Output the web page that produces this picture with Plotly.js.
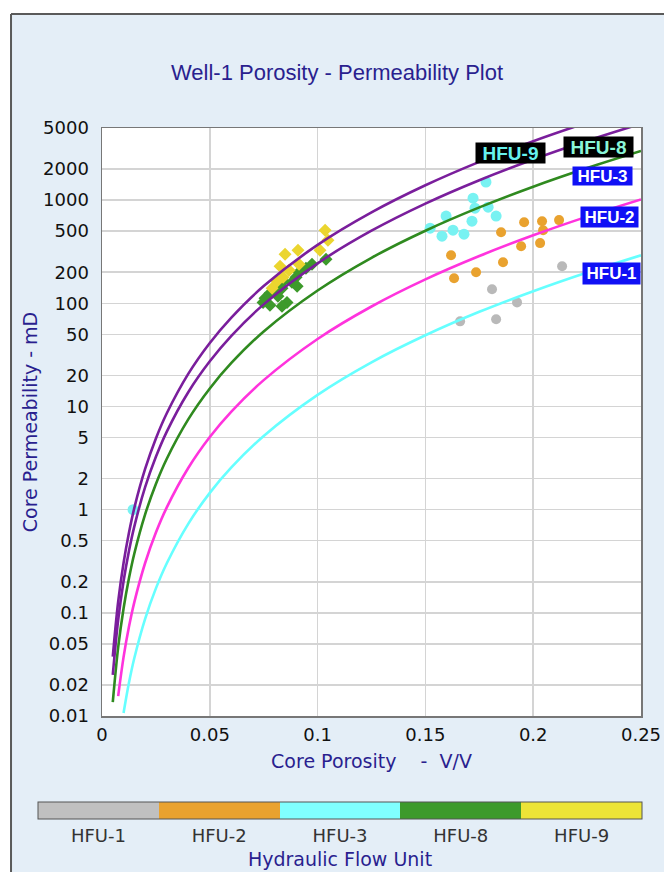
<!DOCTYPE html>
<html>
<head>
<meta charset="utf-8">
<script src="https://cdn.plot.ly/plotly-3.0.1.min.js"></script>
<style>html,body{margin:0;padding:0;background:#fff;}#chart{width:664px;height:872px;}</style>
</head>
<body>
<div id="chart"></div>
<script>
// ---------- Data ----------
// HFU reference curves: porosity (V/V) and permeability (mD)
const hfu9CurvePhi = [0.005, 0.0075, 0.01, 0.0125, 0.015, 0.02, 0.025, 0.03, 0.04, 0.05, 0.06, 0.075, 0.1, 0.125, 0.15, 0.175, 0.2, 0.225];
const hfu9CurveK   = [0.0376, 0.128, 0.304, 0.597, 1.04, 2.48, 4.90, 8.55, 20.7, 41.3, 72.8, 147, 368, 760, 1392, 2346, 3725, 5650];
const hfu8CurvePhi = [0.005, 0.0075, 0.01, 0.0125, 0.015, 0.02, 0.025, 0.03, 0.04, 0.05, 0.06, 0.075, 0.1, 0.125, 0.15, 0.175, 0.2, 0.225, 0.25];
const hfu8CurveK   = [0.025, 0.0848, 0.202, 0.397, 0.689, 1.65, 3.25, 5.68, 13.75, 27.4, 48.4, 97.6, 244, 505, 925, 1559, 2475, 3755, 5500];
const hfu3CurvePhi = [0.005, 0.0075, 0.01, 0.0125, 0.015, 0.02, 0.025, 0.03, 0.04, 0.05, 0.06, 0.075, 0.1, 0.125, 0.15, 0.175, 0.2, 0.225, 0.25];
const hfu3CurveK   = [0.0136, 0.0463, 0.110, 0.216, 0.376, 0.900, 1.775, 3.10, 7.50, 14.96, 26.4, 53.3, 133, 276, 505, 850, 1350, 2048, 3000];
const hfu2CurvePhi = [0.0075, 0.01, 0.0125, 0.015, 0.02, 0.025, 0.03, 0.04, 0.05, 0.06, 0.075, 0.1, 0.125, 0.15, 0.175, 0.2, 0.225, 0.25];
const hfu2CurveK   = [0.0156, 0.0372, 0.0731, 0.127, 0.304, 0.600, 1.047, 2.535, 5.06, 8.92, 18.0, 45.1, 93.1, 170.5, 287, 456, 692, 1014];
const hfu1CurvePhi = [0.01, 0.0125, 0.015, 0.02, 0.025, 0.03, 0.04, 0.05, 0.06, 0.075, 0.1, 0.125, 0.15, 0.175, 0.2, 0.225, 0.25];
const hfu1CurveK   = [0.0107, 0.0210, 0.0365, 0.0875, 0.1726, 0.301, 0.729, 1.454, 2.567, 5.18, 12.96, 26.8, 49.0, 82.7, 131, 199, 292];

// Core samples per hydraulic flow unit
const hfu9Phi = [0.1035, 0.1048, 0.1011, 0.0909, 0.0849, 0.0914, 0.0826, 0.0868, 0.0840, 0.0812, 0.0789];
const hfu9K   = [511, 409, 327, 327, 299, 239, 229, 209, 179, 164, 140];
const hfu8Phi = [0.1039, 0.0974, 0.0946, 0.0914, 0.0900, 0.0881, 0.0905, 0.0840, 0.0835, 0.0803, 0.0779, 0.0816, 0.0756, 0.0747, 0.0779, 0.0858, 0.0835];
const hfu8K   = [267, 239, 219, 200, 179, 160, 146, 164, 140, 131, 125, 117, 112, 102, 95.7, 102, 93.5];
const hfu3Phi = [0.1781, 0.1721, 0.1730, 0.1791, 0.1596, 0.1828, 0.1716, 0.1522, 0.1628, 0.1577, 0.1679, 0.0144];
const hfu3K   = [1496, 1045, 836, 855, 700, 700, 625, 535, 511, 447, 468, 1.0];
const hfu2Phi = [0.1958, 0.2041, 0.2120, 0.1851, 0.2046, 0.1944, 0.2032, 0.1619, 0.1860, 0.1735, 0.1633];
const hfu2K   = [611, 625, 640, 489, 511, 357, 383, 292, 250, 200, 175];
const hfu1Phi = [0.2134, 0.1809, 0.1925, 0.1661, 0.1828];
const hfu1K   = [229, 137, 102, 66.8, 70];

// Axis ticks
const yTickVals = [0.01, 0.02, 0.05, 0.1, 0.2, 0.5, 1, 2, 5, 10, 20, 50, 100, 200, 500, 1000, 2000, 5000];
const yTickText = ['0.01', '0.02', '0.05', '0.1', '0.2', '0.5', '1', '2', '5', '10', '20', '50', '100', '200', '500', '1000', '2000', '5000'];
const xTickVals = [0, 0.05, 0.1, 0.15, 0.2, 0.25];
const xTickText = ['0', '0.05', '0.1', '0.15', '0.2', '0.25'];

// Legend units
const unitNames  = ['HFU-1', 'HFU-2', 'HFU-3', 'HFU-8', 'HFU-9'];
const unitColors = ['#c0c0c0', '#e9a22f', '#80ffff', '#3d9a2b', '#ece437'];

// ---------- Styling ----------
const NAVY = '#2a1f8f';
const PLOT_L = 102, PLOT_W = 539, PLOT_B = 716, PLOT_H = 588;
const CB_CENTER_PX = 340, CB_LEN = 604, CB_TOP_PX = 802, CB_THICK = 17;
const traces = [];

function pts(x, y, color, symbol, size) {
  return {type: 'scatter', mode: 'markers', x: x, y: y, showlegend: false, hoverinfo: 'x+y',
          marker: {color: color, symbol: symbol, size: size, line: {width: 0}}};
}
traces.push(pts(hfu1Phi, hfu1K, '#b9b9b9', 'circle', 10));
traces.push(pts(hfu2Phi, hfu2K, '#e9a22f', 'circle', 10));
traces.push(pts(hfu3Phi, hfu3K, '#78f2f2', 'circle', 11));
traces.push(pts(hfu8Phi, hfu8K, '#3d9a2b', 'diamond', 10));
traces.push(pts(hfu9Phi, hfu9K, '#ebd52f', 'diamond', 10));

function curve(x, y, color) {
  return {type: 'scatter', mode: 'lines', x: x, y: y, showlegend: false, hoverinfo: 'skip',
          line: {color: color, width: 2.6, shape: 'spline', smoothing: 1}};
}
traces.push(curve(hfu1CurvePhi, hfu1CurveK, '#66ffff'));
traces.push(curve(hfu2CurvePhi, hfu2CurveK, '#ff33dd'));
traces.push(curve(hfu3CurvePhi, hfu3CurveK, '#2f8a1f'));
traces.push(curve(hfu8CurvePhi, hfu8CurveK, '#7a1e9c'));
traces.push(curve(hfu9CurvePhi, hfu9CurveK, '#7a1e9c'));

// Colour-bar legend (discrete)
const cs = [];
unitColors.forEach((c, i) => { cs.push([i / unitColors.length, c]); cs.push([(i + 1) / unitColors.length, c]); });
const cbX = (CB_CENTER_PX - PLOT_L) / PLOT_W;
const cbYTop = (PLOT_B - CB_TOP_PX) / PLOT_H;
const cbYBot = (PLOT_B - CB_TOP_PX - CB_THICK) / PLOT_H;
traces.push({
  type: 'scatter', mode: 'markers', x: [null], y: [null], showlegend: false, hoverinfo: 'skip',
  marker: {
    color: [1], cmin: 0.5, cmax: 5.5, colorscale: cs, showscale: true,
    colorbar: {
      orientation: 'h', x: cbX, xanchor: 'center', y: cbYTop, yanchor: 'top',
      lenmode: 'pixels', len: CB_LEN, thicknessmode: 'pixels', thickness: CB_THICK,
      xpad: 0, ypad: 0, outlinewidth: 1, outlinecolor: '#555',
      tickvals: [1, 2, 3, 4, 5], ticktext: unitNames, ticks: '',
      tickfont: {family: 'DejaVu Sans', size: 18, color: '#333'},
      title: {text: 'Hydraulic Flow Unit', side: 'bottom', font: {family: 'DejaVu Sans', size: 19, color: NAVY}}
    }
  }
});

// thin separators between legend segments
const sepShapes = [];
for (let i = 1; i < unitNames.length; i++) {
  const px = CB_CENTER_PX - CB_LEN / 2 + CB_LEN * i / unitNames.length;
  const xp = (px - PLOT_L) / PLOT_W;
  sepShapes.push({type: 'line', xref: 'paper', yref: 'paper', x0: xp, x1: xp, y0: cbYBot, y1: cbYTop,
                  line: {color: '#555', width: 1}});
}

function lab(text, x, ylog, bg, fg, size, w, h) {
  return {text: '<b>' + text + '</b>', x: x, y: ylog, xref: 'x', yref: 'y', showarrow: false,
          bgcolor: bg, borderpad: 1, width: w, height: h,
          font: {family: 'Liberation Sans', size: size, color: fg}};
}

const layout = {
  width: 664, height: 872,
  paper_bgcolor: '#e4eef7', plot_bgcolor: '#ffffff',
  margin: {l: 102, r: 23, t: 128, b: 156, pad: 0, autoexpand: false},
  title: {text: 'Well-1 Porosity - Permeability Plot', x: 337 / 664, xref: 'container', xanchor: 'center',
          y: 1 - 72 / 872, yref: 'container', yanchor: 'middle',
          font: {family: 'Liberation Sans', size: 22, color: NAVY}},
  xaxis: {
    range: [0, 0.25], tickvals: xTickVals, ticktext: xTickText, ticks: '', ticklabelstandoff: 2,
    automargin: false,
    showgrid: true, gridcolor: '#d4d4d4', gridwidth: 1.5, zeroline: false,
    showline: true, mirror: true, linecolor: '#777', linewidth: 1.5,
    tickfont: {family: 'DejaVu Sans', size: 18, color: '#111'},
    title: {text: 'Core Porosity\u00a0\u00a0\u00a0\u00a0-\u00a0\u00a0V/V', standoff: 10,
            font: {family: 'DejaVu Sans', size: 19, color: NAVY}}
  },
  yaxis: {
    type: 'log', range: [-2, Math.log10(5000)], tickvals: yTickVals, ticktext: yTickText, ticks: '', ticklabelstandoff: 8,
    automargin: false,
    showgrid: true, gridcolor: '#d4d4d4', gridwidth: 1.5, zeroline: false,
    showline: true, mirror: true, linecolor: '#777', linewidth: 1.5,
    tickfont: {family: 'DejaVu Sans', size: 18, color: '#111'},
    title: {text: 'Core Permeability - mD', standoff: 0,
            font: {family: 'DejaVu Sans', size: 19, color: NAVY}}
  },
  shapes: [
    {type: 'rect', xref: 'paper', yref: 'paper', x0: -0.3, x1: -0.1688, y0: -0.4, y1: 1.4, fillcolor: '#ffffff', line: {width: 0}, layer: 'below'},
    {type: 'rect', xref: 'paper', yref: 'paper', x0: -0.3, x1: 1.2, y0: 1.1939, y1: 1.4, fillcolor: '#ffffff', line: {width: 0}, layer: 'below'},
    {type: 'line', xref: 'paper', yref: 'paper', x0: -0.1688, x1: -0.1688, y0: -0.4, y1: 1.1939, line: {color: '#5a5a5a', width: 2}},
    {type: 'line', xref: 'paper', yref: 'paper', x0: -0.1688, x1: 1.2, y0: 1.1939, y1: 1.1939, line: {color: '#5a5a5a', width: 2}}
  ].concat(sepShapes),
  annotations: [
    lab('HFU-9', 0.1897, 3.456, '#000000', '#66f2ee', 19, 67, 18),
    lab('HFU-8', 0.2301, 3.515, '#000000', '#8af5d8', 19, 67, 18),
    lab('HFU-3', 0.2320, 3.233, '#1010f5', '#ffffff', 17, 57, 16),
    lab('HFU-2', 0.2352, 2.835, '#1010f5', '#ffffff', 17, 55, 18),
    lab('HFU-1', 0.2361, 2.291, '#1010f5', '#ffffff', 17, 55, 19)
  ]
};

Plotly.newPlot('chart', traces, layout, {displayModeBar: false, staticPlot: true});
</script>
</body>
</html>
